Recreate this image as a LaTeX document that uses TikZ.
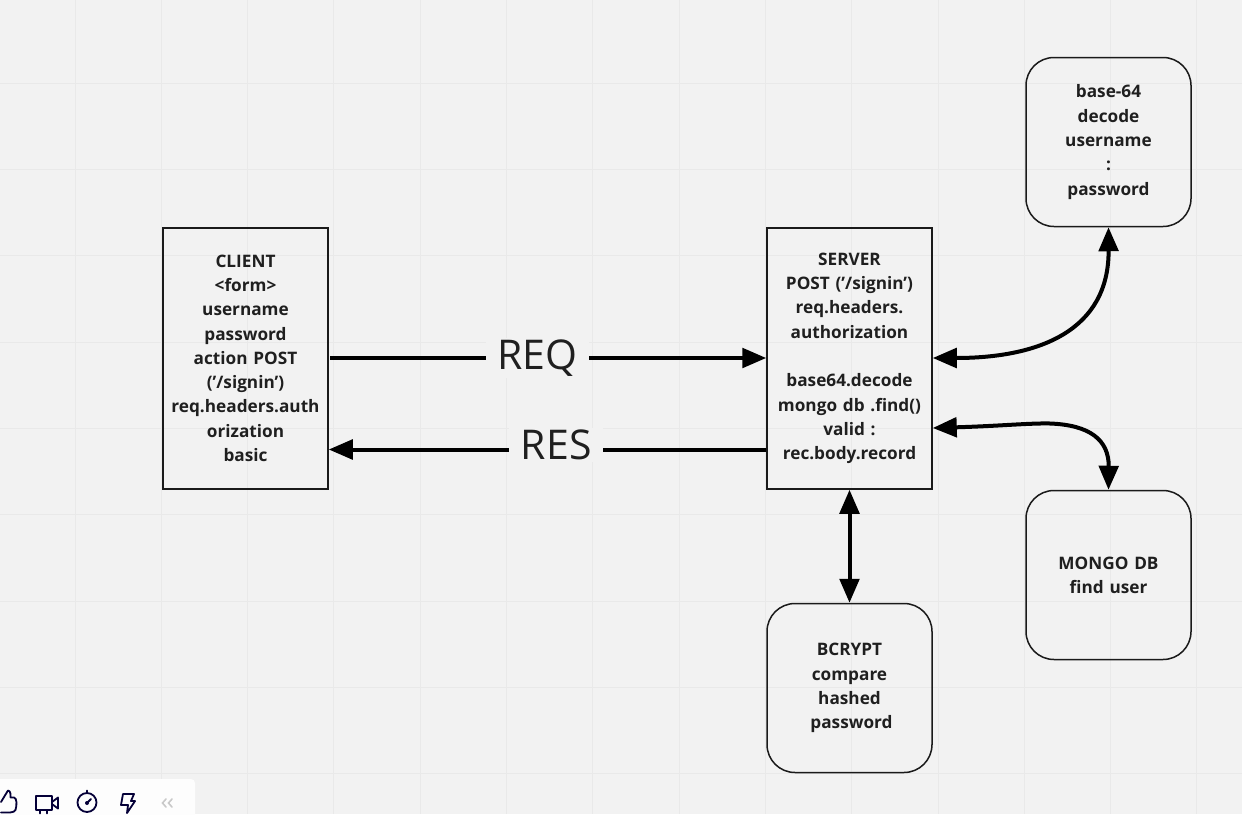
\documentclass[tikz,border=0pt]{standalone}
\usepackage{fontspec}
\setmainfont{Open Sans}
\usetikzlibrary{arrows.meta}
\definecolor{bgc}{HTML}{F2F2F2}
\definecolor{gridc}{HTML}{E9E9E9}
\definecolor{linec}{HTML}{1A1A1A}
\definecolor{textc}{HTML}{1F1F1F}
\definecolor{iconc}{HTML}{050038}
\definecolor{barc}{HTML}{FDFDFD}
\tikzset{
  x=1pt,y=-1pt,
  boxbase/.style={draw=linec,line width=1.5pt,minimum width=165pt,text width=165pt,align=center,inner sep=0pt,
     font=\fontsize{17.2pt}{24.3pt}\selectfont\bfseries,text=textc},
  rectbox/.style={boxbase,minimum height=261pt},
  roundbox/.style={boxbase,rounded corners=28pt,minimum height=169pt},
  conn/.style={draw=black,line width=4pt,-{Triangle[length=24pt,width=19.5pt]}},
  biconn/.style={draw=black,line width=4pt,{Triangle[length=24pt,width=19.5pt]}-{Triangle[length=24pt,width=19.5pt]}},
  edgelabel/.style={fill=bgc,inner xsep=11.5pt,inner ysep=2pt,font=\fontsize{41pt}{44pt}\selectfont,text=textc},
  icon/.style={draw=iconc,line width=1.8pt,line join=round,line cap=round}
}
\begin{document}
\begin{tikzpicture}
\useasboundingbox (0,0) rectangle (1242,814);
\fill[bgc] (0,0) rectangle (1242,814);
\foreach \gx in {75,161.3,247.6,333.9,420.2,506.5,592.8,679.1,765.4,851.7,938,1024.3,1110.6,1196.9}
  \draw[gridc,line width=1pt] (\gx,0) -- (\gx,814);
\foreach \gy in {83,169.3,255.6,342,428.3,514.6,601,687.3,773.6}
  \draw[gridc,line width=1pt] (0,\gy) -- (1242,\gy);

\node[rectbox] (client) at (245.5,358.5) {CLIENT\\[-0.5pt]<form>\\username\\password\\action POST\\('/signin')\\req.headers.auth\\orization\\basic};
\node[rectbox] (server) at (849.5,358.5) {SERVER\\[-0.5pt]POST ('/signin')\\req.headers.\\authorization\\[24.3pt]base64.decode\\mongo db .find()\\valid :\\rec.body.record};
\node[roundbox] (b64) at (1108.5,142) {base-64\\decode\\username\\:\\password};
\node[roundbox] (mongo) at (1108.5,575) {MONGO DB\\find user};
\node[roundbox,minimum height=169pt] (bcrypt) at (849.5,688) {BCRYPT\\compare\\hashed\\\hspace{4pt}password};

\coordinate (cr1) at ([xshift=1.5pt]client.east |- 0,358);
\coordinate (sl1) at (server.west |- 0,358);
\coordinate (sl2) at (server.west |- 0,449.5);
\coordinate (cr2) at (client.east |- 0,449.5);
\coordinate (sr1) at (server.east |- 0,358);
\coordinate (sr2) at (server.east |- 0,428);

\draw[conn] (cr1) -- node[edgelabel,pos=0.475] (req) {REQ} (sl1);
\draw[conn] (sl2) -- node[edgelabel,pos=0.48,yshift=4.5pt] (res) {RES} (cr2);
\draw[biconn] (sr1) .. controls (1040,358) and (1109,330) .. (b64.south);
\draw[biconn] (sr2) .. controls (1000,426) and (1030,423) .. (1050,423.5) .. controls (1090,425) and (1109,440) .. (mongo.north);
\draw[biconn] (server.south) -- (bcrypt.north);

% toolbar
\fill[barc,rounded corners=4pt] (-10,779) rectangle (195,830);
\begin{scope}
\clip (0,779) rectangle (195,814);
\draw[icon] (1,802) -- (4,797) -- (8,790.5) .. controls (11,791) and (10.5,795) .. (10.5,797.5) -- (14,797.5) .. controls (17,798) and (17,805) .. (15.5,810) .. controls (14,813) and (9,812.5) .. (1,812.5);
\draw[icon] (36,796) rectangle (52,810);
\draw[icon] (52,802) -- (58,797.5) -- (58,808.5) -- (52,804);
\draw[icon] (40,810) -- (40,813.5);
\draw[icon] (47,810) -- (47,813.5);
\draw[icon] (87,802.5) circle (9.5pt);
\draw[icon] (87,790.5) -- (87,793);
\draw[icon] (87,803) -- (91,799);
\fill[iconc] (87,803) circle (2pt);
\draw[icon] (123,794) -- (134,794) -- (131,801) -- (135,801) -- (127,813) -- (128,805) -- (121,805) -- cycle;
\draw[draw=gridc!70!gray,line width=1.6pt,line cap=round] (166,799) -- (162.5,803) -- (166,807);
\draw[draw=gridc!70!gray,line width=1.6pt,line cap=round] (172,799) -- (168.5,803) -- (172,807);
\end{scope}
\end{tikzpicture}
\end{document}
